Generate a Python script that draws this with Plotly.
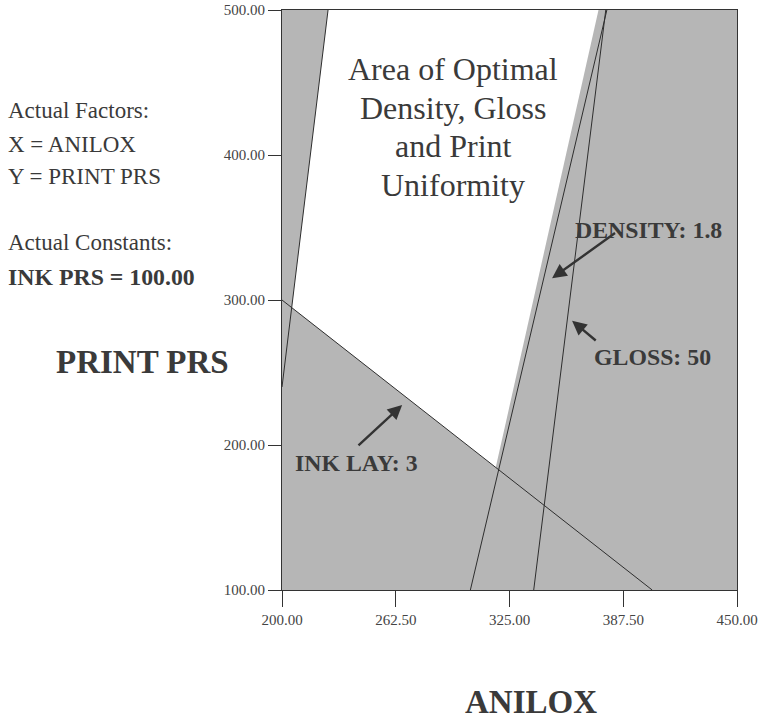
import plotly.graph_objects as go

# Axis ranges and tick values (ANILOX on x, PRINT PRS on y)
x_range = [200.0, 450.0]
y_range = [100.0, 500.0]
x_ticks = [200.0, 262.5, 325.0, 387.5, 450.0]
y_ticks = [100.0, 200.0, 300.0, 400.0, 500.0]

# Contour lines of the overlay plot, each defined by two (ANILOX, PRINT PRS) points
ink_lay_x = [200.0, 403.4]
ink_lay_y = [300.0, 100.0]
density_x = [378.5, 303.5]
density_y = [500.0, 100.0]
gloss_x = [377.9, 338.3]
gloss_y = [500.0, 100.0]
uniformity_x = [225.3, 200.0]
uniformity_y = [500.0, 240.0]
# edge of the density shading (just inside the DENSITY: 1.8 contour)
density_edge_x = [373.9, 302.3]
density_edge_y = [500.0, 100.0]

INK = "#3a3a3a"
SHADE = "#b6b6b6"
SERIF = "Liberation Serif, Times New Roman, serif"


def intersect(ax_, ay_, bx_, by_):
    """Intersection of the infinite lines through two point pairs."""
    x1, x2 = ax_
    y1, y2 = ay_
    x3, x4 = bx_
    y3, y4 = by_
    d = (x1 - x2) * (y3 - y4) - (y1 - y2) * (x3 - x4)
    t = ((x1 - x3) * (y3 - y4) - (y1 - y3) * (x3 - x4)) / d
    return x1 + t * (x2 - x1), y1 + t * (y2 - y1)


top_x = [x_range[0], x_range[1]]
top_y = [y_range[1], y_range[1]]

# Corners of the unshaded (optimal) region
p_tl = intersect(uniformity_x, uniformity_y, top_x, top_y)
p_tr = intersect(density_edge_x, density_edge_y, top_x, top_y)
p_br = intersect(density_edge_x, density_edge_y, ink_lay_x, ink_lay_y)
p_bl = intersect(uniformity_x, uniformity_y, ink_lay_x, ink_lay_y)
opt_x = [p_tl[0], p_tr[0], p_br[0], p_bl[0], p_tl[0]]
opt_y = [p_tl[1], p_tr[1], p_br[1], p_bl[1], p_tl[1]]

fig = go.Figure()

fig.add_trace(go.Scatter(
    x=opt_x, y=opt_y, mode="lines", fill="toself",
    fillcolor="white", line=dict(width=0, color="white"),
    hoverinfo="skip", showlegend=False,
))

for lx, ly in [(uniformity_x, uniformity_y), (ink_lay_x, ink_lay_y),
               (density_x, density_y), (gloss_x, gloss_y)]:
    fig.add_trace(go.Scatter(
        x=lx, y=ly, mode="lines",
        line=dict(color="#2e2e2e", width=1),
        hoverinfo="skip", showlegend=False,
    ))

# Page geometry of the plotting area
W, H = 758, 719
L, R, T, B = 282, 21, 10, 129
PW, PH = W - L - R, H - T - B


def pxx(xp):
    return (xp - L) / PW


def pxy(yp):
    return (H - B - yp) / PH


ann = []


def text(s, xp, yp, size, bold=False, xanchor="left"):
    ann.append(dict(
        text=f"<b>{s}</b>" if bold else s,
        xref="paper", yref="paper", x=pxx(xp), y=pxy(yp),
        xanchor=xanchor, yanchor="middle", showarrow=False,
        font=dict(family=SERIF, size=size, color=INK),
    ))


# Factor / constant legend on the left
text("Actual Factors:", 6, 111, 23)
text("X = ANILOX", 6, 144, 23)
text("Y = PRINT PRS", 6, 177, 23)
text("Actual Constants:", 6, 243, 23)
text("INK PRS = 100.00", 6, 277, 23.8, bold=True)

# Axis titles
text("PRINT PRS", 142, 362, 33, bold=True, xanchor="center")
text("ANILOX", 531, 702, 33, bold=True, xanchor="center")

# Region label
for i, line in enumerate(["Area of Optimal", "Density, Gloss",
                          "and Print", "Uniformity"]):
    text(line, 453, 69 + 38.5 * i, 32, xanchor="center")

# Contour labels with pointer arrows (data coordinates)
labels = [
    ("DENSITY: 1.8", 401.4, 348.3, (383.8, 346.9), (348.4, 315.0)),
    ("GLOSS: 50", 403.8, 260.5, (373.2, 271.2), (359.4, 285.7)),
    ("INK LAY: 3", 240.8, 187.5, (241.2, 198.8), (266.0, 227.6)),
]
for s, tx, ty, tail, head in labels:
    ann.append(dict(
        text="", x=head[0], y=head[1], ax=tail[0], ay=tail[1],
        xref="x", yref="y", axref="x", ayref="y",
        showarrow=True, arrowhead=2, arrowsize=1.2, arrowwidth=2.4,
        arrowcolor="#333333", standoff=0, startstandoff=0,
    ))
    ann.append(dict(
        text=f"<b>{s}</b>", x=tx, y=ty, xref="x", yref="y",
        showarrow=False, xanchor="center", yanchor="middle",
        font=dict(family=SERIF, size=23.8, color=INK),
    ))

axis_common = dict(
    showgrid=False, zeroline=False, showline=True, mirror=True,
    automargin=False,
    linecolor="#333333", linewidth=1, ticks="outside", tickcolor="#333333",
    tickwidth=1, tickformat=".2f",
    tickfont=dict(family=SERIF, size=15, color="#444444"),
)

fig.update_layout(
    width=W, height=H,
    margin=dict(l=L, r=R, t=T, b=B, pad=0, autoexpand=False),
    paper_bgcolor="white", plot_bgcolor=SHADE,
    xaxis=dict(range=x_range, tickvals=x_ticks, ticklen=16, **axis_common),
    yaxis=dict(range=y_range, tickvals=y_ticks, ticklen=13, **axis_common),
    annotations=ann,
    showlegend=False,
)

fig.write_html("out.html")
